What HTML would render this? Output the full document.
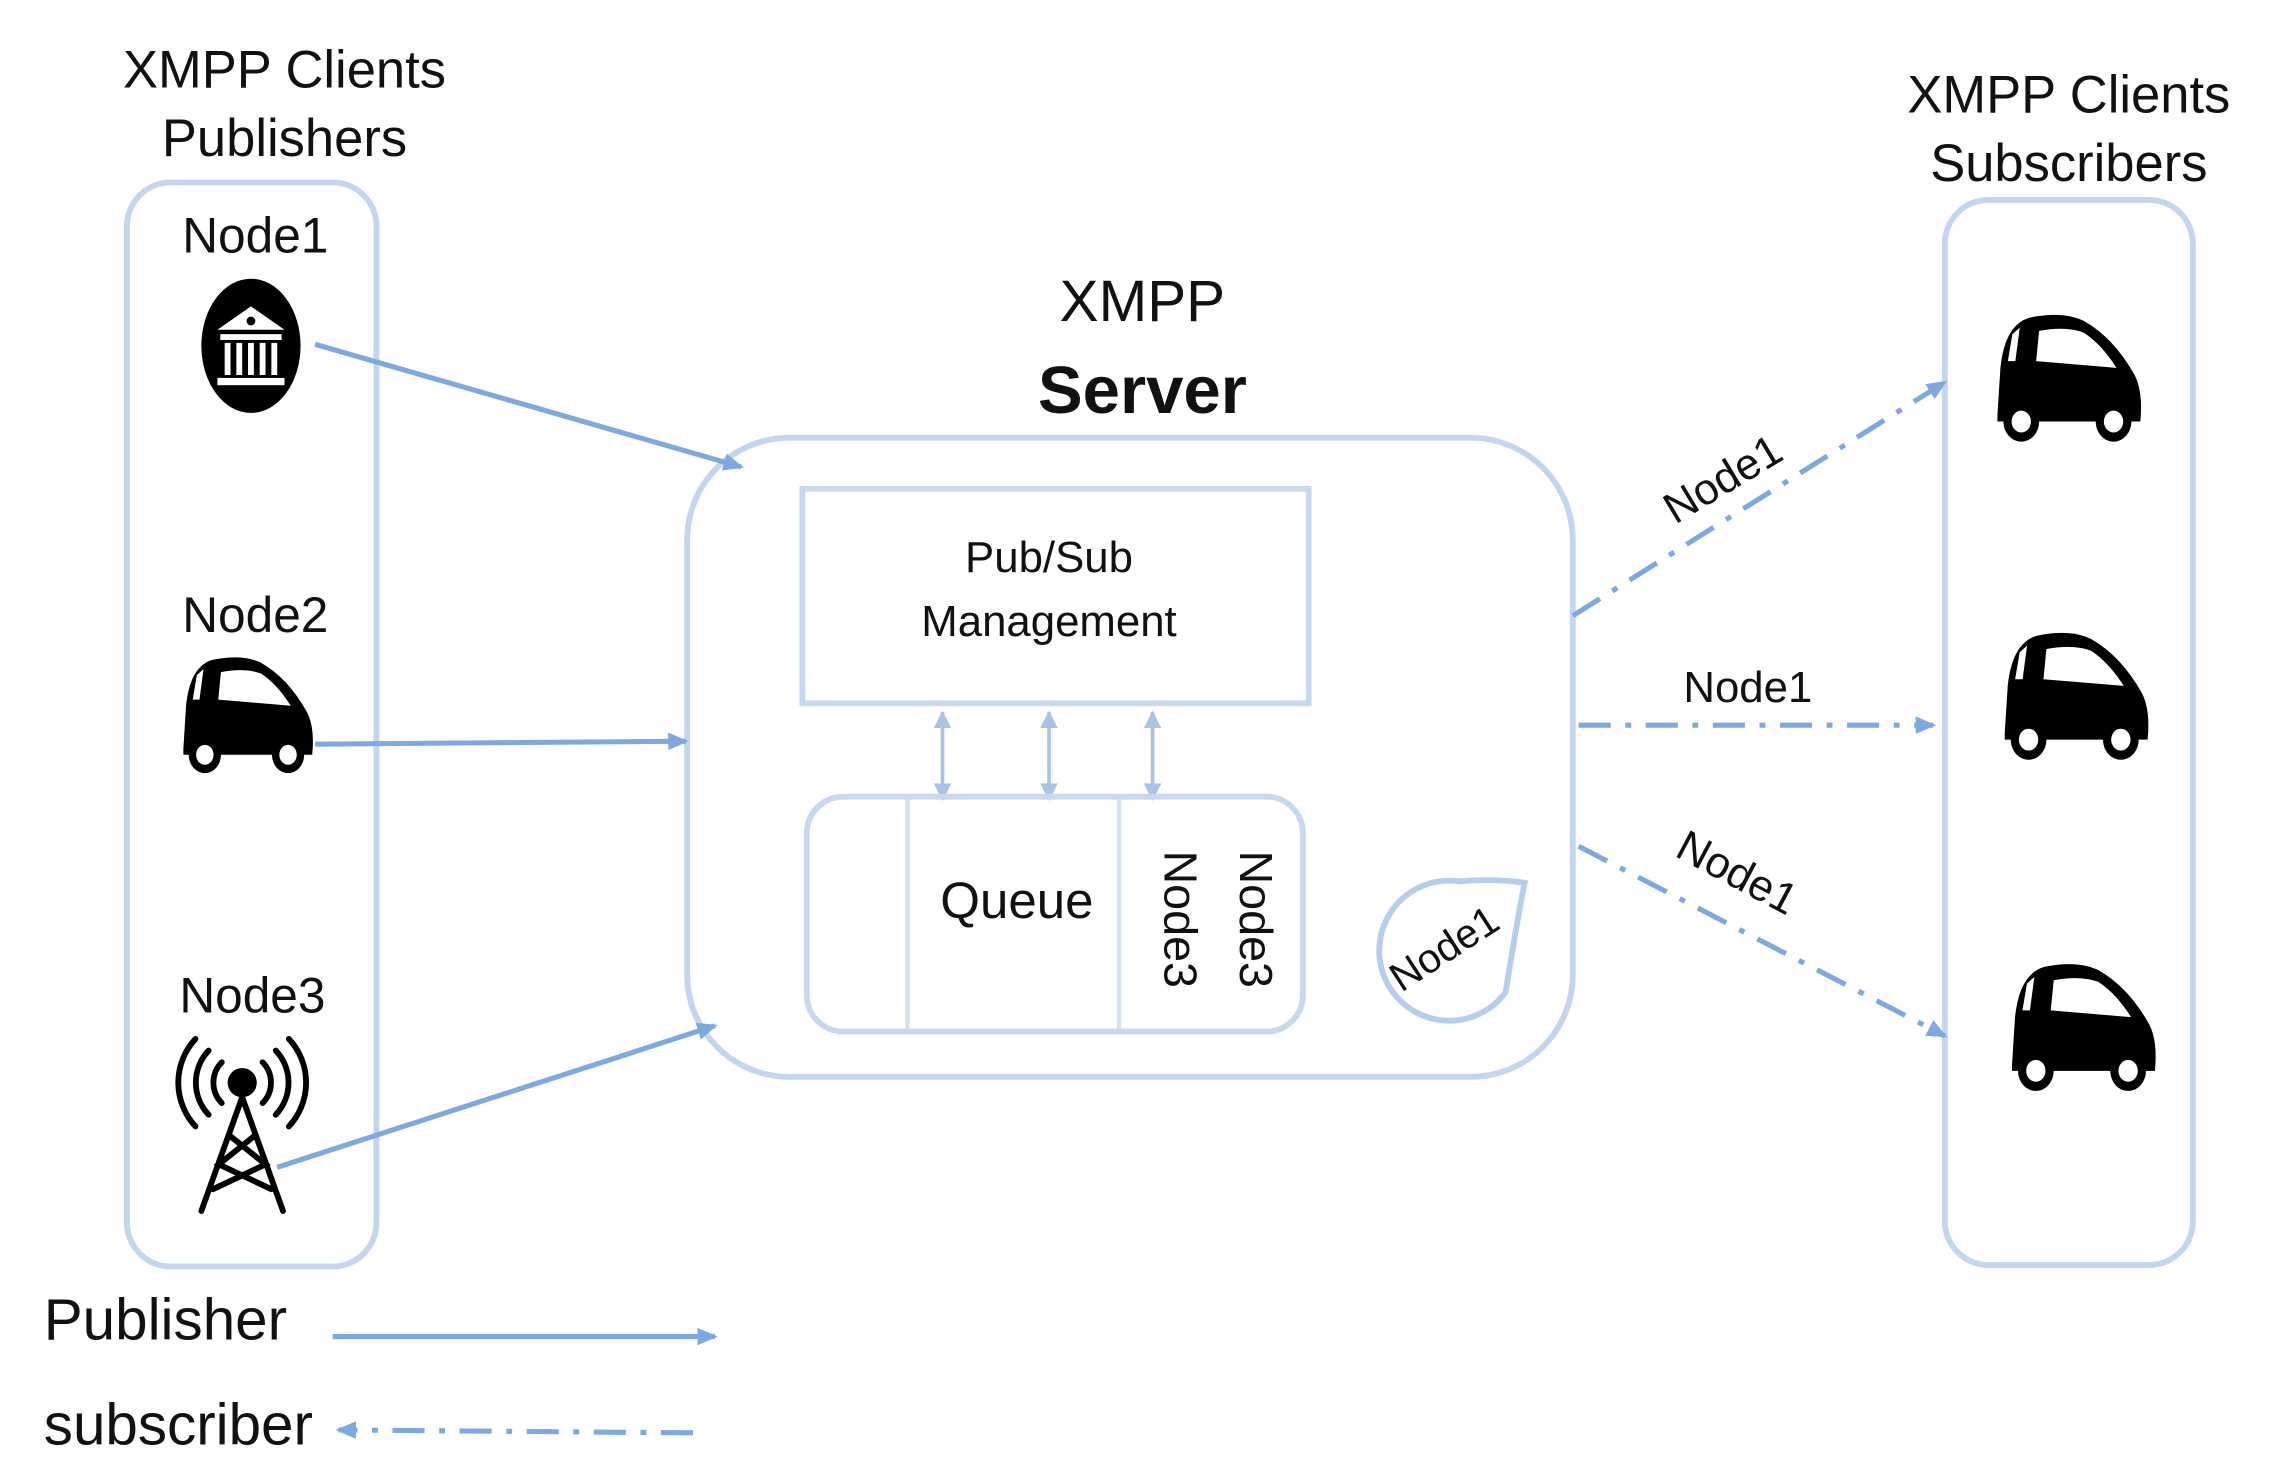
<!DOCTYPE html>
<html><head><meta charset="utf-8"><style>
html,body{margin:0;padding:0;background:#fff;}
svg{display:block;}
text{font-family:"Liberation Sans",sans-serif;fill:#111;}
</style></head><body>
<svg width="2276" height="1481" viewBox="0 0 1560 1015" preserveAspectRatio="none" xmlns="http://www.w3.org/2000/svg">
<defs>
<marker id="ahs" markerWidth="14" markerHeight="14" refX="12" refY="7" orient="auto" markerUnits="userSpaceOnUse" viewBox="0 0 14 14">
<path d="M0,1 L14,7 L0,13 Z" fill="#7ea8e0"/></marker>
<marker id="ahg" markerWidth="12" markerHeight="12" refX="11" refY="6" orient="auto-start-reverse" markerUnits="userSpaceOnUse" viewBox="0 0 12 12">
<path d="M0,0 L12,6 L0,12 Z" fill="#a9c2e6"/></marker>
<g id="car">
<path d="M4,62 L6,34 Q9,8 26,4 Q48,0 62,6 Q82,16 96,38 Q102,48 100,66 L4,66 Z" fill="#000"/>
<path d="M32,12 Q50,9 62,13 Q74,20 84,34 L30,30 Z" fill="#fff"/>
<path d="M14,14 L19,10 L16,30 L11,30 Z" fill="#fff"/>
<circle cx="20" cy="66" r="12" fill="#000"/><circle cx="20" cy="66" r="6.5" fill="#fff"/>
<circle cx="82" cy="66" r="12" fill="#000"/><circle cx="82" cy="66" r="6.5" fill="#fff"/>
</g>
</defs>

<text x="195" y="60" font-size="36" text-anchor="middle">XMPP Clients</text>
<text x="195" y="107" font-size="36" text-anchor="middle">Publishers</text>
<text x="1418" y="77" font-size="36" text-anchor="middle">XMPP Clients</text>
<text x="1418" y="124" font-size="36" text-anchor="middle">Subscribers</text>
<text x="783" y="220" font-size="40" text-anchor="middle">XMPP</text>
<text x="783" y="283" font-size="46" font-weight="bold" text-anchor="middle">Server</text>

<rect x="87" y="125" width="171" height="743" rx="30" fill="none" stroke="#c3d5ef" stroke-width="4"/>
<rect x="1333" y="137" width="170" height="730" rx="30" fill="none" stroke="#c3d5ef" stroke-width="4"/>

<rect x="471" y="300" width="607" height="438" rx="70" fill="none" stroke="#c3d5ef" stroke-width="4"/>
<rect x="550" y="335" width="347" height="147" fill="none" stroke="#c8d8ef" stroke-width="4"/>
<text x="719" y="392" font-size="30" text-anchor="middle">Pub/Sub</text>
<text x="719" y="436" font-size="30" text-anchor="middle">Management</text>
<g stroke="#a9c2e6" stroke-width="2.5">
<line x1="646" y1="488" x2="646" y2="548" marker-start="url(#ahg)" marker-end="url(#ahg)"/>
<line x1="719" y1="488" x2="719" y2="548" marker-start="url(#ahg)" marker-end="url(#ahg)"/>
<line x1="790" y1="488" x2="790" y2="548" marker-start="url(#ahg)" marker-end="url(#ahg)"/>
</g>
<rect x="553" y="546" width="340" height="161" rx="25" fill="none" stroke="#c8d8ef" stroke-width="4"/>
<line x1="622" y1="548" x2="622" y2="705" stroke="#d3e0f2" stroke-width="3"/>
<line x1="767" y1="548" x2="767" y2="705" stroke="#d3e0f2" stroke-width="3"/>
<text x="697" y="629" font-size="35" text-anchor="middle">Queue</text>
<text transform="translate(798,630) rotate(90)" font-size="32" text-anchor="middle">Node3</text>
<text transform="translate(850,630) rotate(90)" font-size="32" text-anchor="middle">Node3</text>
<path d="M1045,605 Q1040,630 1032,680 A48,48 0 1 1 1000,604 Q1025,602 1045,605 Z" fill="none" stroke="#b7cdec" stroke-width="4"/>
<text transform="translate(995,658) rotate(-33)" font-size="28" text-anchor="middle">Node1</text>

<text x="175" y="173" font-size="34" text-anchor="middle">Node1</text>
<ellipse cx="172" cy="237" rx="34" ry="46" fill="#000"/>
<g fill="#fff">
<path d="M149,226 L172,210 L195,226 Z"/>
<rect x="151" y="229" width="42" height="4"/>
<rect x="154" y="235" width="4" height="22"/><rect x="162" y="235" width="4" height="22"/>
<rect x="170" y="235" width="4" height="22"/><rect x="178" y="235" width="4" height="22"/><rect x="186" y="235" width="4" height="22"/>
<rect x="149" y="259" width="46" height="5"/>
</g>
<circle cx="172" cy="220" r="3" fill="#000"/>

<text x="175" y="433" font-size="34" text-anchor="middle">Node2</text>
<use href="#car" transform="translate(122,448) scale(0.92,1.05)"/>

<text x="173" y="694" font-size="34" text-anchor="middle">Node3</text>
<g stroke="#000" stroke-width="4" fill="none" stroke-linecap="round">
<circle cx="166" cy="742" r="10" fill="#000" stroke="none"/>
<path d="M152,728 A20,20 0 0 0 152,756"/><path d="M180,728 A20,20 0 0 1 180,756"/>
<path d="M143,720 A32,32 0 0 0 143,764"/><path d="M189,720 A32,32 0 0 1 189,764"/>
<path d="M134,712 A44,44 0 0 0 134,772"/><path d="M198,712 A44,44 0 0 1 198,772"/>
<path d="M166,752 L138,830 M166,752 L194,830 M157,778 L182,798 L146,815 M175,778 L150,798 L186,815"/>
</g>

<g stroke="#7ea8e0" stroke-width="3.5" fill="none">
<line x1="216" y1="236" x2="508" y2="320" marker-end="url(#ahs)"/>
<line x1="216" y1="510" x2="470" y2="508" marker-end="url(#ahs)"/>
<line x1="190" y1="800" x2="490" y2="703" marker-end="url(#ahs)"/>
<line x1="228" y1="916" x2="490" y2="916" marker-end="url(#ahs)"/>
</g>
<g stroke="#7ea8e0" stroke-width="3.5" fill="none" stroke-dasharray="22,10,4,10">
<line x1="1078" y1="422" x2="1333" y2="262" marker-end="url(#ahs)"/>
<line x1="1082" y1="497" x2="1325" y2="497" marker-end="url(#ahs)"/>
<line x1="1082" y1="580" x2="1333" y2="710" marker-end="url(#ahs)"/>
<line x1="475" y1="982" x2="232" y2="980" marker-end="url(#ahs)"/>
</g>
<text transform="translate(1186,337) rotate(-31)" font-size="30" text-anchor="middle">Node1</text>
<text x="1198" y="481" font-size="30" text-anchor="middle">Node1</text>
<text transform="translate(1186,607) rotate(28)" font-size="30" text-anchor="middle">Node1</text>

<use href="#car" transform="translate(1365,213) scale(1.02,1.15)"/>
<use href="#car" transform="translate(1370,431) scale(1.02,1.15)"/>
<use href="#car" transform="translate(1375,658) scale(1.02,1.15)"/>

<text x="30" y="918" font-size="40">Publisher</text>
<text x="30" y="990" font-size="40">subscriber</text>
</svg>
</body></html>
